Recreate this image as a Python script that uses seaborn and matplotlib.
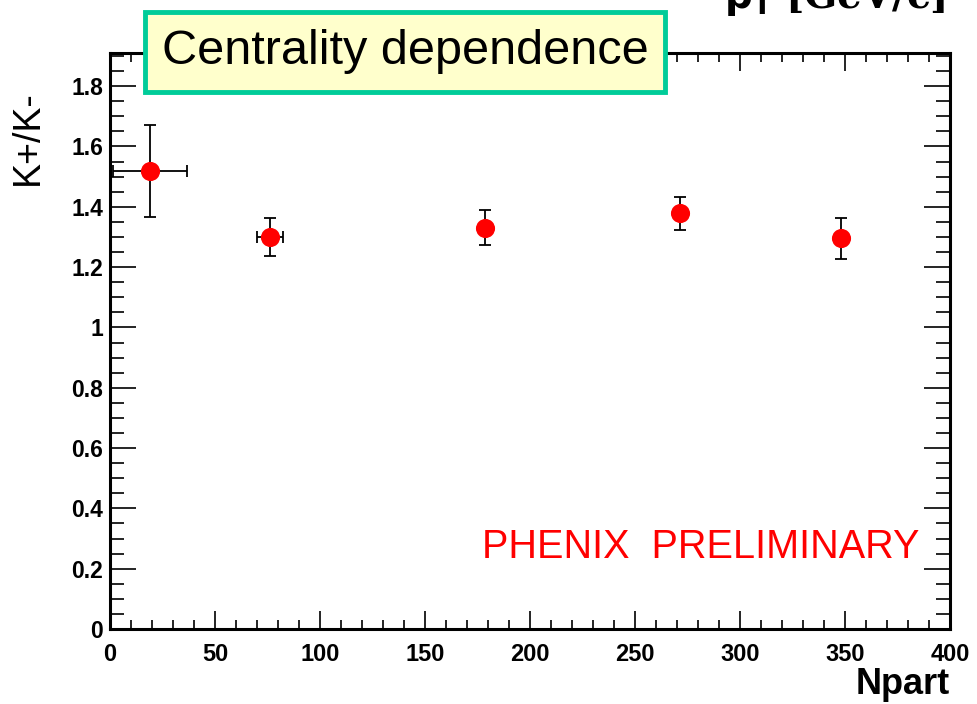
import matplotlib
matplotlib.use("Agg")
import matplotlib.pyplot as plt
import seaborn as sns
import pandas as pd
from matplotlib.ticker import MultipleLocator, FixedFormatter, FixedLocator

# Data
npart = [19.0, 76.2, 178.6, 271.4, 347.9]
ratio = [1.518, 1.300, 1.331, 1.378, 1.295]
ratio_err = [0.153, 0.062, 0.057, 0.055, 0.068]
npart_err = [17.6, 6.0, 0.0, 0.0, 0.0]
x_ticks = [0, 50, 100, 150, 200, 250, 300, 350, 400]
y_ticks = [0, 0.2, 0.4, 0.6, 0.8, 1.0, 1.2, 1.4, 1.6, 1.8]
y_tick_labels = ["0", "0.2", "0.4", "0.6", "0.8", "1", "1.2", "1.4", "1.6", "1.8"]

df = pd.DataFrame({"Npart": npart, "ratio": ratio})

sns.set_theme(style="ticks")
plt.rcParams["font.family"] = ["Liberation Sans", "DejaVu Sans"]
plt.rcParams["text.color"] = "black"
plt.rcParams["xtick.color"] = "black"
plt.rcParams["ytick.color"] = "black"

fig = plt.figure(figsize=(9.78, 7.04), dpi=100)
ax = fig.add_axes([110 / 978, 75 / 704, 840 / 978, 576 / 704])

ax.errorbar(npart, ratio, yerr=ratio_err, xerr=npart_err, fmt="none",
            ecolor="black", elinewidth=1.3, capsize=4.5, capthick=1.3, zorder=2)
sns.scatterplot(data=df, x="Npart", y="ratio", ax=ax, color="red", s=190,
                marker="o", edgecolor="red", linewidth=0, zorder=3, legend=False)

ax.set_xlim(0, 400)
ax.set_ylim(0, 1.91)
ax.xaxis.set_major_locator(FixedLocator(x_ticks))
ax.xaxis.set_minor_locator(MultipleLocator(10))
ax.yaxis.set_major_locator(FixedLocator(y_ticks))
ax.yaxis.set_major_formatter(FixedFormatter(y_tick_labels))
ax.yaxis.set_minor_locator(MultipleLocator(0.05))

for sp in ax.spines.values():
    sp.set_visible(True)
    sp.set_linewidth(2.2)
    sp.set_color("black")

ax.tick_params(axis="both", which="both", direction="in", top=True, right=True,
               color="black", labelcolor="black", width=1.2)
ax.tick_params(axis="x", which="major", length=13, pad=10, labelsize=17)
ax.tick_params(axis="x", which="minor", length=6.5)
ax.tick_params(axis="y", which="major", length=19, pad=5, labelsize=16.5)
ax.tick_params(axis="y", which="minor", length=10)
for lab in ax.get_xticklabels() + ax.get_yticklabels():
    lab.set_fontweight("heavy")

ax.set_xlabel("")
ax.set_ylabel("")
fig.text(950 / 978, 1 - 685 / 704, "Npart", ha="right", va="center", fontsize=26,
         fontweight="bold")
fig.text(28 / 978, 1 - 138 / 704, "K+/K-", ha="center", va="center", fontsize=27,
         rotation=90)

ax.text(0.963, 0.142, "PHENIX  PRELIMINARY", transform=ax.transAxes,
        ha="right", va="center", color="red", fontsize=28.5)

fig.text(405 / 978, 1 - 52 / 704, "Centrality dependence", ha="center", va="center",
         fontsize=35, color="black",
         bbox=dict(boxstyle="square,pad=0.35", facecolor="#ffffcc",
                   edgecolor="#00cc99", linewidth=3.5))

fig.text(835 / 978, 1 - 8 / 704, r"$\mathbf{p_T}$ [GeV/c]", ha="center",
         va="baseline", fontsize=28, fontweight="bold", family="serif")

fig.savefig("out.png", dpi=100)
